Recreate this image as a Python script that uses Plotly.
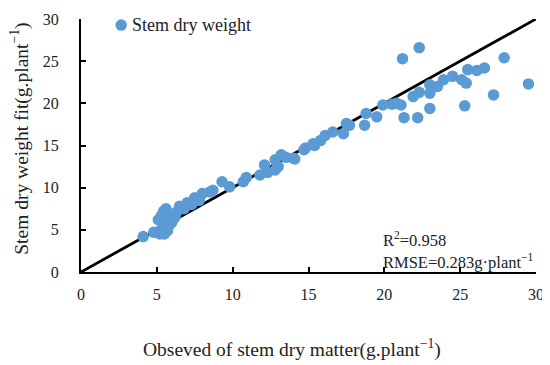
import plotly.graph_objects as go

observed = [4.1, 4.8, 5.2, 5.5, 5.3, 5.7, 5.1, 5.3, 5.45, 5.6, 5.5, 5.8, 5.6, 5.9, 5.8, 6.0, 6.2, 6.3, 6.1, 6.5,
            6.8, 7.0, 7.3, 7.5, 7.8, 8.0, 8.5, 8.7, 9.3, 9.8, 10.7, 10.9, 11.8, 12.1, 12.3, 12.8, 12.8, 13.0, 13.2, 13.5,
            14.0, 14.1, 14.7, 14.8, 15.3, 15.4, 15.8, 16.1, 16.6, 17.3, 17.5, 17.7, 18.7, 18.8, 19.5, 19.9, 20.5, 20.8, 21.1, 21.2,
            21.3, 21.9, 22.2, 22.3, 22.3, 23.0, 23.0, 23.0, 23.5, 23.9, 24.5, 25.1, 25.3, 25.4, 25.5, 26.1, 26.6, 27.2, 27.9, 29.5]
fitted = [4.2, 4.7, 4.5, 4.5, 5.1, 4.9, 6.2, 6.7, 7.2, 7.5, 5.8, 5.5, 6.2, 6.3, 6.9, 5.9, 6.5, 7.1, 6.8, 7.8,
          7.5, 8.2, 8.0, 8.8, 8.5, 9.3, 9.5, 9.7, 10.7, 10.1, 10.7, 11.2, 11.5, 12.7, 11.8, 12.1, 13.3, 12.5, 13.9, 13.6,
          13.5, 13.4, 14.5, 14.7, 15.2, 15.0, 15.6, 16.2, 16.6, 16.4, 17.6, 17.4, 17.4, 18.8, 18.4, 19.8, 19.9, 20.0, 19.8, 25.3,
          18.3, 20.8, 18.3, 21.3, 26.6, 21.2, 22.2, 19.4, 22.0, 22.8, 23.2, 22.8, 19.7, 22.4, 24.0, 23.9, 24.2, 21.0, 25.4, 22.3]
line_x = [0, 30]
line_y = [0, 30]
ticks = [0, 5, 10, 15, 20, 25, 30]
series_name = "Stem dry weight"
MARKER_COLOR = "#5B9BD5"

FONT = "Liberation Serif"

fig = go.Figure()
fig.add_trace(go.Scatter(x=line_x, y=line_y, mode="lines", line=dict(color="black", width=2.8),
                         showlegend=False, hoverinfo="skip"))
fig.add_trace(go.Scatter(x=observed, y=fitted, mode="markers", name=series_name, showlegend=False,
                         marker=dict(color=MARKER_COLOR, size=11.5, line=dict(width=0))))

axis_common = dict(range=[0, 30], tickvals=ticks, showgrid=False, zeroline=False, automargin=False,
                   showline=True, linecolor="black", linewidth=2, ticks="inside", ticklen=5,
                   tickwidth=2, tickcolor="black", tickfont=dict(family=FONT, size=16, color="#222"),
                   mirror=False)
fig.update_xaxes(**axis_common, ticklabelstandoff=7)
fig.update_yaxes(**axis_common, ticklabelstandoff=17)

# legend drawn as a marker symbol + label in the top-left corner
LEG_X, LEG_Y = 0.0883, 0.976
fig.add_shape(type="circle", xref="paper", yref="paper", xsizemode="pixel", ysizemode="pixel",
              xanchor=LEG_X, yanchor=LEG_Y, x0=-5.75, x1=5.75, y0=-5.75, y1=5.75,
              fillcolor=MARKER_COLOR, line=dict(width=0))

fig.update_layout(
    width=542, height=357,
    margin=dict(l=72.5, r=14, t=11, b=93.3),
    plot_bgcolor="white", paper_bgcolor="white",
    font=dict(family=FONT, color="#222"),
    annotations=[
        dict(text=series_name, xref="paper", yref="paper", x=0.1087, y=LEG_Y, xanchor="left",
             yanchor="middle", showarrow=False, font=dict(family=FONT, size=18, color="#222")),
        dict(text="Obseved of stem dry matter(g.plant<sup>−1</sup>)", xref="paper", yref="paper",
             x=0.464, y=-0.302, xanchor="center", yanchor="middle", showarrow=False,
             font=dict(family=FONT, size=19.5, color="#222")),
        dict(text="Stem dry weight fit(g.plant<sup>−1</sup>)", xref="paper", yref="paper",
             x=-0.135, y=0.525, xanchor="center", yanchor="middle", showarrow=False, textangle=-90,
             font=dict(family=FONT, size=19.5, color="#222")),
        dict(text="R<sup>2</sup>=0.958", x=19.8, y=3.8, xref="x", yref="y", xanchor="left",
             yanchor="middle", showarrow=False, font=dict(family=FONT, size=16.5, color="#222")),
        dict(text="RMSE=0.283g·plant<sup>−1</sup>", x=19.8, y=1.2, xref="x", yref="y", xanchor="left",
             yanchor="middle", showarrow=False, font=dict(family=FONT, size=16.5, color="#222")),
    ],
)

fig.write_html("out.html")
